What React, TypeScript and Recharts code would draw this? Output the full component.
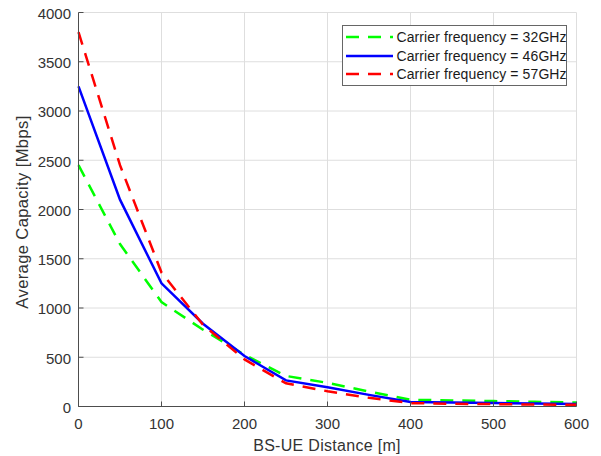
import { LineChart, Line, XAxis, YAxis, CartesianGrid, Legend } from 'recharts';

// BS-UE distance [m]
const distance = [0, 50, 100, 150, 200, 250, 300, 350, 400, 450, 500, 550, 600];
// average capacity [Mbps] per carrier frequency
const cap32 = [2450, 1650, 1060, 780, 525, 310, 240, 152, 68, 62, 55, 48, 40];
const cap46 = [3250, 2100, 1250, 840, 512, 265, 195, 118, 45, 40, 35, 30, 25];
const cap57 = [3800, 2450, 1360, 830, 478, 235, 155, 88, 34, 28, 24, 20, 17];

const xTicks = [0, 100, 200, 300, 400, 500, 600];
const yTicks = [0, 500, 1000, 1500, 2000, 2500, 3000, 3500, 4000];

const series = [
  { key: 'f32', name: 'Carrier frequency = 32GHz', color: '#00ff00', dash: '13 9' },
  { key: 'f46', name: 'Carrier frequency = 46GHz', color: '#0000ff', dash: undefined },
  { key: 'f57', name: 'Carrier frequency = 57GHz', color: '#ff0000', dash: '13 9' },
];

const data = distance.map((d, i) => ({ distance: d, f32: cap32[i], f46: cap46[i], f57: cap57[i] }));

const FONT = '"Liberation Sans", Arial, sans-serif';
const AXIS = '#4d4d4d';
const TEXT = '#333333';

function LegendBox() {
  return (
    <div
      style={{
        boxSizing: 'border-box',
        width: 225,
        height: 61,
        border: '1px solid #666',
        background: '#fff',
        paddingTop: 2,
        fontFamily: FONT,
        fontSize: 14,
        letterSpacing: 0.1,
        color: '#1a1a1a',
      }}
    >
      {series.map((s) => (
        <div key={s.key} style={{ display: 'flex', alignItems: 'center', height: 18.5 }}>
          <svg width={54} height={10} style={{ flex: 'none' }}>
            <line x1={3} y1={5} x2={50} y2={5} stroke={s.color} strokeWidth={2.5} strokeDasharray={s.dash} />
          </svg>
          <span style={{ whiteSpace: 'nowrap' }}>{s.name}</span>
        </div>
      ))}
    </div>
  );
}

export default function App() {
  return (
    <div style={{ position: 'absolute', left: 0, top: 0, width: 601, height: 456, background: '#fff' }}>
      <LineChart width={601} height={456} data={data} margin={{ top: 12.5, right: 24.5, bottom: 0, left: 0 }}>
        <CartesianGrid stroke="#dedede" strokeWidth={1} />
        <XAxis
          dataKey="distance"
          type="number"
          domain={[0, 600]}
          ticks={xTicks}
          height={49.5}
          stroke={AXIS}
          tickSize={-5}
          tickMargin={17}
          tick={{ fill: TEXT, fontSize: 15, fontFamily: FONT }}
          label={{
            content: () => (
              <text x={327} y={450.5} textAnchor="middle" fill={TEXT} fontSize={16} fontFamily={FONT} letterSpacing={0.3}>
                BS-UE Distance [m]
              </text>
            ),
          }}
        />
        <XAxis
          xAxisId="top"
          orientation="top"
          type="number"
          domain={[0, 600]}
          ticks={xTicks}
          height={0}
          stroke={AXIS}
          tickSize={-5}
          tick={false}
          allowDataOverflow
        />
        <YAxis
          type="number"
          domain={[0, 4000]}
          ticks={yTicks}
          width={78.5}
          stroke={AXIS}
          tickSize={-5}
          tickMargin={12.5}
          tick={{ fill: TEXT, fontSize: 15, fontFamily: FONT, dy: 1 }}
          label={{
            content: () => (
              <text
                x={28}
                y={212}
                transform="rotate(-90 28 212)"
                textAnchor="middle"
                fill={TEXT}
                fontSize={16.5}
                fontFamily={FONT}
                letterSpacing={0.4}
              >
                Average Capacity [Mbps]
              </text>
            ),
          }}
        />
        <YAxis
          yAxisId="right"
          orientation="right"
          type="number"
          domain={[0, 4000]}
          ticks={yTicks}
          width={0}
          stroke={AXIS}
          tickSize={-5}
          tick={false}
          allowDataOverflow
        />
        <Legend
          layout="vertical"
          align="center"
          verticalAlign="middle"
          wrapperStyle={{ left: 341.5, top: 25, width: 225, height: 61 }}
          content={() => <LegendBox />}
        />
        {series.map((s) => (
          <Line
            key={s.key}
            type="linear"
            dataKey={s.key}
            name={s.name}
            stroke={s.color}
            strokeWidth={2.5}
            strokeDasharray={s.dash}
            dot={false}
            activeDot={false}
            isAnimationActive={false}
          />
        ))}
      </LineChart>
    </div>
  );
}
